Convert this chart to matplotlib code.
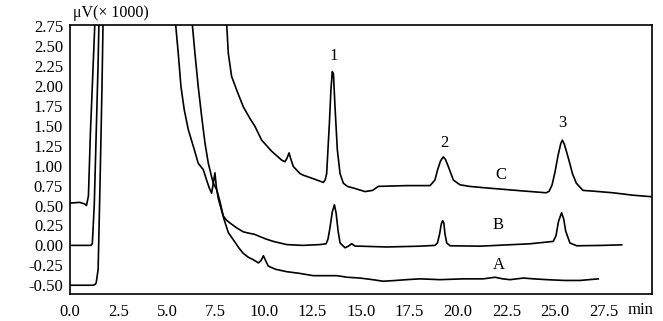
import matplotlib
matplotlib.use('Agg')
from matplotlib import pyplot as plt

plt.rcParams['font.family'] = ['Liberation Serif', 'DejaVu Serif']

# retention time (min) and signal (uV x 1000)
t_a = [0.0, 0.8, 1.2, 1.29, 1.35, 1.45, 1.55, 1.65, 1.75, 5.3, 5.45, 5.58, 5.72, 5.89,
       6.10, 6.36, 6.61, 6.87, 7.04, 7.18, 7.30, 7.40, 7.47, 7.55, 7.65, 7.8, 7.95, 8.16,
       8.42, 8.7, 8.93, 9.2, 9.45, 9.71, 9.85, 9.97, 10.1, 10.22, 10.6, 11.17, 11.8,
       12.54, 13.2, 13.75, 14.3, 14.95, 15.6, 16.15, 16.8, 17.35, 18.04, 19.07, 20.27,
       21.3, 21.91, 22.3, 22.68, 23.37, 23.9, 24.57, 25.5, 26.29, 27.23]
v_a = [-0.50, -0.50, -0.50, -0.49, -0.47, -0.3, 0.8, 2.0, 3.5, 3.5, 2.76, 2.41, 1.99, 1.70,
       1.45, 1.24, 1.03, 0.95, 0.82, 0.72, 0.655, 0.80, 0.91, 0.72, 0.58, 0.45, 0.32, 0.16,
       0.07, -0.03, -0.10, -0.15, -0.18, -0.22, -0.19, -0.13, -0.20, -0.26, -0.30, -0.33,
       -0.35, -0.38, -0.38, -0.38, -0.40, -0.41, -0.43, -0.45, -0.44, -0.43, -0.42, -0.43,
       -0.42, -0.42, -0.40, -0.42, -0.43, -0.41, -0.42, -0.43, -0.44, -0.44, -0.42]

t_b = [0.0, 0.6, 1.08, 1.15, 1.25, 1.35, 1.45, 1.55, 6.2, 6.31, 6.44, 6.61, 6.79, 6.96,
       7.13, 7.30, 7.39, 7.56, 7.73, 7.9, 8.05, 8.25, 8.59, 8.93, 9.28, 9.5, 9.79, 10.1,
       10.48, 11.17, 12.0, 12.89, 13.2, 13.3, 13.4, 13.52, 13.63, 13.72, 13.82, 13.92,
       14.18, 14.35, 14.52, 14.7, 14.95, 16.32, 18.04, 18.81, 18.94, 19.05, 19.14, 19.21,
       19.27, 19.33, 19.42, 19.59, 21.13, 23.71, 24.91, 25.05, 25.18, 25.34, 25.45, 25.55,
       25.77, 26.12, 27.5, 28.44]
v_b = [0.0, 0.0, 0.0, 0.02, 0.5, 1.4, 2.3, 3.5, 3.5, 2.76, 2.41, 1.99, 1.61, 1.28,
       1.03, 0.86, 0.78, 0.70, 0.55, 0.37, 0.32, 0.28, 0.22, 0.17, 0.15, 0.14, 0.11, 0.08,
       0.05, 0.01, 0.0, 0.01, 0.02, 0.08, 0.22, 0.42, 0.51, 0.40, 0.18, 0.03,
       -0.03, -0.01, 0.02, -0.01, -0.01, -0.02, -0.01, 0.0, 0.03, 0.14, 0.27, 0.31,
       0.28, 0.14, 0.03, -0.005, -0.01, 0.02, 0.05, 0.12, 0.30, 0.41, 0.33, 0.18,
       0.03, -0.005, 0.0, 0.007]

t_c = [0.0, 0.5, 0.75, 0.85, 0.95, 1.05, 1.2, 1.3, 1.4, 7.9, 8.08, 8.16, 8.33, 8.59,
       8.93, 9.28, 9.54, 9.88, 10.40, 10.91, 11.08, 11.18, 11.29, 11.4, 11.51, 11.86,
       12.03, 12.5, 13.06, 13.15, 13.23, 13.37, 13.45, 13.52, 13.58, 13.66, 13.78, 13.92,
       14.09, 14.3, 14.60, 15.21, 15.6, 15.89, 16.6, 17.35, 18.2, 18.56, 18.81, 18.95,
       19.1, 19.24, 19.35, 19.5, 19.76, 20.1, 20.6, 21.5, 22.5, 23.5, 24.55, 24.7, 24.85,
       25.0, 25.15, 25.3, 25.38, 25.48, 25.6, 25.75, 25.9, 26.1, 26.44, 27.0, 27.99, 29.0,
       30.0]
v_c = [0.53, 0.54, 0.52, 0.50, 0.62, 1.4, 2.3, 2.9, 3.5, 3.5, 2.76, 2.41, 2.12, 1.95,
       1.74, 1.59, 1.49, 1.32, 1.18, 1.07, 1.05, 1.09, 1.16, 1.07, 0.99, 0.90,
       0.88, 0.84, 0.79, 0.82, 0.90, 1.53, 1.95, 2.18, 2.15, 1.74, 1.20, 0.90,
       0.78, 0.74, 0.72, 0.675, 0.69, 0.74, 0.745, 0.75, 0.75, 0.75, 0.82, 0.95,
       1.06, 1.11, 1.08, 0.99, 0.82, 0.76, 0.74, 0.72, 0.70, 0.68, 0.66, 0.68, 0.76,
       0.92, 1.12, 1.28, 1.32, 1.27, 1.17, 1.04, 0.90, 0.78, 0.69, 0.68, 0.66, 0.63,
       0.61]

x_ticks = [0.0, 2.5, 5.0, 7.5, 10.0, 12.5, 15.0, 17.5, 20.0, 22.5, 25.0, 27.5]
y_ticks = [-0.50, -0.25, 0.00, 0.25, 0.50, 0.75, 1.00, 1.25, 1.50, 1.75, 2.00, 2.25, 2.50, 2.75]

peak_names = ['1', '2', '3']
peak_t = [13.57, 19.31, 25.38]
peak_v = [2.37, 1.28, 1.53]

trace_names = ['A', 'B', 'C']
trace_lab_t = [22.08, 22.08, 22.2]
trace_lab_v = [-0.24, 0.26, 0.88]

fig = plt.figure(figsize=(6.63, 3.21), dpi=100)
ax = fig.add_axes([70/663, 1-294/321, 582/663, 269/321])

for t, v in [(t_a, v_a), (t_b, v_b), (t_c, v_c)]:
    ax.plot(t, v, color='black', lw=1.2)

ax.set_xlim(0, 30)
ax.set_ylim(-0.61, 2.765)
ax.set_xticks(x_ticks)
ax.set_xticklabels(['%.1f' % x for x in x_ticks])
ax.set_yticks(y_ticks)
ax.set_yticklabels(['%.2f' % y for y in y_ticks])
ax.tick_params(length=0, labelsize=12)
ax.tick_params(axis='x', pad=7)
ax.tick_params(axis='y', pad=5)
for s in ax.spines.values():
    s.set_linewidth(1.2)

for n, t, v in zip(peak_names, peak_t, peak_v):
    ax.text(t, v, n, ha='center', va='center', fontsize=12)
for n, t, v in zip(trace_names, trace_lab_t, trace_lab_v):
    ax.text(t, v, n, ha='center', va='center', fontsize=12)

fig.text(641/663, 1-310/321, 'min', ha='center', va='center', fontsize=12)
fig.text(73/663, 1-13/321, 'μV(× 1000)', ha='left', va='center', fontsize=11.5)

fig.savefig('out.png', dpi=100)
